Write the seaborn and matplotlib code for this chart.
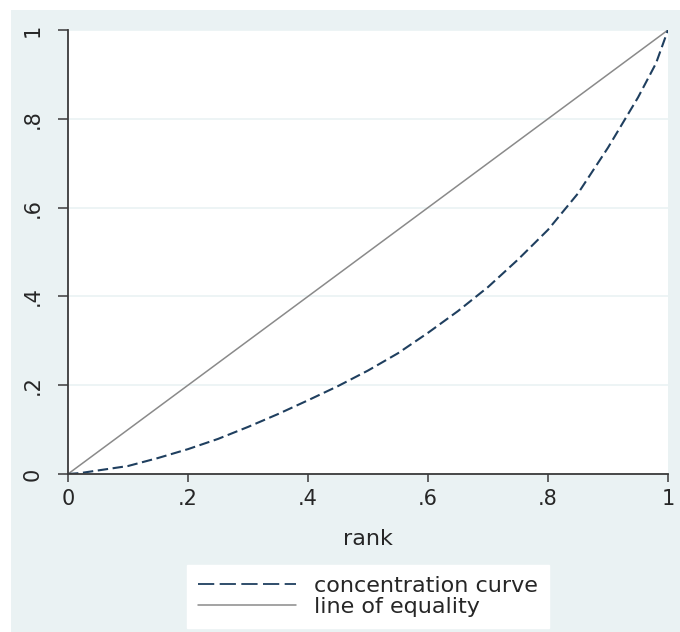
"""
Concentration curve vs. line of equality, Stata s2color look.
"""
import matplotlib
matplotlib.use("Agg")
import matplotlib.pyplot as plt
from matplotlib.lines import Line2D
from matplotlib.patches import Rectangle
import seaborn as sns

# values
rank_pts = [0, 0.02, 0.04, 0.1, 0.15, 0.2, 0.25, 0.3, 0.35, 0.4, 0.45, 0.5,
            0.55, 0.6, 0.65, 0.7, 0.75, 0.8, 0.85, 0.9, 0.95, 0.98, 1.0]
conc_share = [0, 0.002, 0.006, 0.018, 0.036, 0.056, 0.079, 0.106, 0.135, 0.166,
              0.198, 0.233, 0.272, 0.318, 0.367, 0.421, 0.483, 0.55, 0.632,
              0.735, 0.848, 0.925, 1.0]
equality_x = [0, 1]
equality_y = [0, 1]

tick_vals = [0, 0.2, 0.4, 0.6, 0.8, 1]
tick_labels = ["0", ".2", ".4", ".6", ".8", "1"]
series_labels = ["concentration curve", "line of equality"]
x_title = "rank"

# colours
BG = "#eaf2f3"
NAVY = "#1f3f5f"
GRAY = "#8a8a8a"
TXT = "#262626"

sns.set_theme(style="white")
plt.rcParams["font.family"] = ["DejaVu Sans"]

W, H = 680, 632
fig = plt.figure(figsize=(W / 100, H / 100), dpi=100, facecolor="white")
# graph region (light bluish gray), image is cropped on right/bottom
fig.patches.append(Rectangle((11 / W, 0), 1, 1 - 10 / H, transform=fig.transFigure,
                             facecolor=BG, edgecolor="none", zorder=-5))

ax = fig.add_axes([68 / W, 1 - 474 / H, 600 / W, 444 / H])
ax.set_facecolor("white")

sns.lineplot(x=equality_x, y=equality_y, ax=ax, color=GRAY, lw=1.1)
sns.lineplot(x=rank_pts, y=conc_share, ax=ax, color=NAVY, lw=1.5,
             linestyle=(0, (5, 2.2)))

ax.set_xlim(0, 1)
ax.set_ylim(0, 1)
ax.set_xticks(tick_vals)
ax.set_xticklabels(tick_labels)
ax.set_yticks(tick_vals)
ax.set_yticklabels(tick_labels, rotation=90, va="center")
ax.yaxis.grid(True, color=BG, lw=1.2)
ax.xaxis.grid(False)
ax.set_axisbelow(True)

for side in ["top", "right"]:
    ax.spines[side].set_visible(False)
for side in ["left", "bottom"]:
    ax.spines[side].set_color("#3a3a3a")
    ax.spines[side].set_linewidth(1.3)

ax.tick_params(axis="x", direction="out", length=6, width=1.1, color="#3a3a3a",
               labelsize=15, labelcolor=TXT, pad=5, bottom=True)
ax.tick_params(axis="y", direction="out", length=7, width=1.1, color="#3a3a3a",
               labelsize=15, labelcolor=TXT, pad=11, left=True)

ax.set_xlabel(x_title, fontsize=16, color=TXT, labelpad=14)
ax.set_ylabel("")

handles = [
    Line2D([], [], color=NAVY, lw=1.3, linestyle=(0, (9, 3))),
    Line2D([], [], color=GRAY, lw=1.1),
]
leg = fig.legend(handles, series_labels, loc="center",
                 bbox_to_anchor=(368 / W, 1 - 596.5 / H),
                 fontsize=16, frameon=True, fancybox=False, framealpha=1,
                 handlelength=4.4, handletextpad=0.85, labelspacing=0.05,
                 borderpad=0.5)
leg.get_frame().set_facecolor("white")
leg.get_frame().set_edgecolor("white")
for t in leg.get_texts():
    t.set_color(TXT)

fig.savefig("out.png", dpi=100, facecolor=fig.get_facecolor())
